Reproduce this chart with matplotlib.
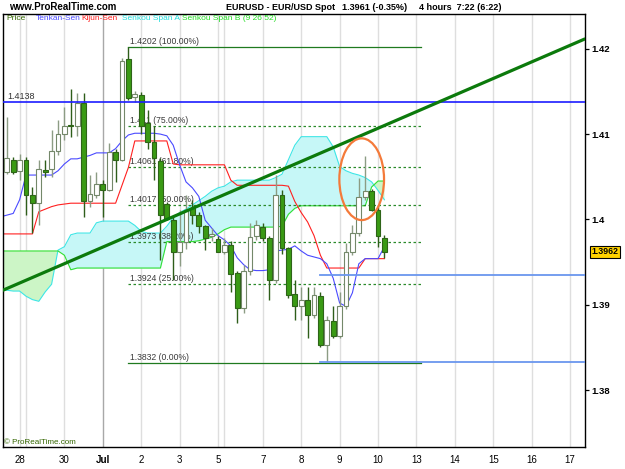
import matplotlib
matplotlib.use("Agg")
import matplotlib.pyplot as plt
import matplotlib.transforms as mtransforms
from matplotlib.patches import Rectangle, Ellipse

plt.rcParams['font.family'] = ['Liberation Sans', 'DejaVu Sans']

# ---------------- data ----------------
# bar index: 0 = the Sunday Jun 28 bar, 6 bars (4h) per weekday
bar_index = list(range(-2, 58))
opens = [1.4055, 1.4070, 1.4057, 1.4070, 1.4029, 1.4019, 1.4058, 1.4059, 1.4080, 1.4100,
         1.4111, 1.4110, 1.4137, 1.4021, 1.4029, 1.4042, 1.4035, 1.4079, 1.4070, 1.4188,
         1.4143, 1.4146, 1.4113, 1.4091, 1.4068, 1.4018, 1.3999, 1.3962, 1.3974, 1.4013,
         1.4005, 1.3992, 1.3980, 1.3977, 1.3962, 1.3970, 1.3937, 1.3896, 1.3939, 1.3980,
         1.3991, 1.3978, 1.3929, 1.4029, 1.3966, 1.3912, 1.3898, 1.3905, 1.3888, 1.3910,
         1.3853, 1.3881, 1.3863, 1.3898, 1.3962, 1.3984, 1.4026, 1.4033, 1.4011, 1.3978]
highs = [1.4120, 1.4073, 1.4077, 1.4073, 1.4038, 1.4070, 1.4070, 1.4105, 1.4117, 1.4132,
         1.4153, 1.4148, 1.4148, 1.4052, 1.4056, 1.4046, 1.4089, 1.4083, 1.4189, 1.4202,
         1.4150, 1.4149, 1.4128, 1.4109, 1.4072, 1.4020, 1.4003, 1.4011, 1.4029, 1.4023,
         1.4009, 1.3993, 1.3990, 1.3980, 1.3978, 1.3975, 1.3940, 1.3947, 1.3996, 1.3999,
         1.3996, 1.3980, 1.4052, 1.4035, 1.3968, 1.3929, 1.3921, 1.3921, 1.3921, 1.3915,
         1.3887, 1.3898, 1.3915, 1.3972, 1.3993, 1.4048, 1.4074, 1.4036, 1.4017, 1.3982]
lows = [1.4053, 1.4053, 1.4046, 1.4005, 1.3984, 1.3994, 1.4050, 1.4050, 1.4076, 1.4093,
        1.4097, 1.4098, 1.4003, 1.4015, 1.4025, 1.4003, 1.4033, 1.4044, 1.4068, 1.4140,
        1.4138, 1.4100, 1.4083, 1.4046, 1.3952, 1.3999, 1.3929, 1.3945, 1.3965, 1.3995,
        1.3984, 1.3964, 1.3975, 1.3962, 1.3960, 1.3915, 1.3879, 1.3890, 1.3935, 1.3976,
        1.3975, 1.3906, 1.3925, 1.3960, 1.3908, 1.3882, 1.3882, 1.3861, 1.3885, 1.3851,
        1.3833, 1.3861, 1.3861, 1.3895, 1.3958, 1.3980, 1.4023, 1.4010, 1.3968, 1.3955]
closes = [1.4072, 1.4055, 1.4070, 1.4029, 1.4019, 1.4059, 1.4056, 1.4080, 1.4100, 1.4110,
          1.4109, 1.4136, 1.4021, 1.4030, 1.4042, 1.4035, 1.4079, 1.4070, 1.4186, 1.4142,
          1.4147, 1.4110, 1.4091, 1.4072, 1.4005, 1.4000, 1.3962, 1.3974, 1.4011, 1.4005,
          1.3992, 1.3978, 1.3983, 1.3962, 1.3970, 1.3936, 1.3896, 1.3939, 1.3979, 1.3994,
          1.3978, 1.3929, 1.4029, 1.3966, 1.3911, 1.3898, 1.3905, 1.3888, 1.3911, 1.3853,
          1.3882, 1.3863, 1.3898, 1.3962, 1.3984, 1.4026, 1.4033, 1.4011, 1.3980, 1.3962]

ichi_index = list(range(-3, 58))
tenkan = [1.4003, 1.4005, 1.4007, 1.4023, 1.4052, 1.4052, 1.4052, 1.4052, 1.4052, 1.4057,
          1.4065, 1.4071, 1.4071, 1.4073, 1.4075, 1.4078, 1.4078, 1.4078, 1.4083, 1.4092,
          1.4099, 1.4101, 1.4101, 1.4101, 1.4101, 1.4100, 1.4098, 1.4087, 1.4064, 1.4044,
          1.4037, 1.4027, 1.3999, 1.3990, 1.3981, 1.3976, 1.3969, 1.3955, 1.3947, 1.3941,
          1.3940, 1.3940, 1.3941, 1.3963, 1.3964, 1.3965, 1.3969, 1.3963, 1.3958, 1.3956,
          1.3954, 1.3948, 1.3931, 1.3902, 1.3898, 1.3914, 1.3948, 1.3954, 1.3954, 1.3954,
          1.3968]
kijun = [1.3983, 1.3983, 1.3983, 1.3983, 1.3983, 1.3983, 1.4009, 1.4012, 1.4015, 1.4017,
         1.4018, 1.4019, 1.4019, 1.4019, 1.4019, 1.4019, 1.4019, 1.4019, 1.4019, 1.4040,
         1.4061, 1.4092, 1.4092, 1.4092, 1.4092, 1.4092, 1.4092, 1.4065, 1.4064, 1.4064,
         1.4064, 1.4064, 1.4064, 1.4064, 1.4064, 1.4064, 1.4046, 1.4040, 1.4040, 1.4040,
         1.4040, 1.4040, 1.4040, 1.4040, 1.4040, 1.4039, 1.4021, 1.4008, 1.3997, 1.3981,
         1.3958, 1.3943, 1.3943, 1.3943, 1.3943, 1.3943, 1.3943, 1.3954, 1.3954, 1.3954,
         1.3954]
senkou_a = [1.3917, 1.3917, 1.3916, 1.3916, 1.3910, 1.3906, 1.3904, 1.3915, 1.3924, 1.3964,
            1.3968, 1.3982, 1.3984, 1.3984, 1.3984, 1.3996, 1.3998, 1.3998, 1.3998, 1.3998,
            1.3998, 1.3993, 1.3986, 1.3984, 1.3984, 1.3984, 1.3992, 1.4002, 1.4008, 1.4012,
            1.4017, 1.4022, 1.4027, 1.4033, 1.4037, 1.4039, 1.4044, 1.4046, 1.4046, 1.4046,
            1.4046, 1.4046, 1.4046, 1.4049, 1.4053, 1.4070, 1.4087, 1.4097, 1.4097, 1.4097,
            1.4097, 1.4097, 1.4085, 1.4062, 1.4057, 1.4054, 1.4052, 1.4049, 1.4044, 1.4034,
            1.4023]
senkou_b = [1.3963, 1.3963, 1.3963, 1.3963, 1.3963, 1.3963, 1.3963, 1.3963, 1.3963, 1.3963,
            1.3958, 1.3941, 1.3943, 1.3943, 1.3943, 1.3943, 1.3943, 1.3943, 1.3943, 1.3943,
            1.3943, 1.3943, 1.3943, 1.3943, 1.3943, 1.3943, 1.3974, 1.3974, 1.3974, 1.3974,
            1.3974, 1.3975, 1.3977, 1.3979, 1.3983, 1.3988, 1.3991, 1.3991, 1.3991, 1.3991,
            1.3991, 1.3991, 1.3991, 1.3991, 1.3992, 1.4006, 1.4013, 1.4016, 1.4016, 1.4016,
            1.4016, 1.4016, 1.4016, 1.4016, 1.4016, 1.4016, 1.4016, 1.4016, 1.4038, 1.4045,
            1.4045]

day_ticks = [0, 7, 13, 19, 25, 31, 38, 44, 50, 56, 62, 68, 74, 80, 86]
day_labels = ['28', '30', 'Jul', '2', '3', '5', '7', '8', '9', '10', '13', '14', '15', '16', '17']
grid_days = [0, 1, 7, 13, 19, 25, 31, 32, 38, 44, 50, 56, 62, 68, 74, 80, 86]
month_start = 13

fib_levels = [1.4202, 1.411, 1.4061, 1.4017, 1.3973, 1.3924, 1.3832]
fib_texts = ['1.4202', '1.411', '1.4061', '1.4017', '1.3973', '1.3924', '1.3832']
fib_pcts = ['100.00%', '75.00%', '61.80%', '50.00%', '38.20%', '25.00%', '0.00%']
fib_span = [16.9, 62.7]

resistance = 1.4138
supports = [1.3935, 1.3833]
support_start = 46.9

trend_t = [-2.6, 88.3]
trend_p = [1.3917, 1.42115]

yticks = [1.38, 1.39, 1.40, 1.41, 1.42]
ytick_labels = ['1.38', '1.39', '1.4', '1.41', '1.42']
last_price = 1.3962

ellipse_center = (53.45, 1.40471)
ellipse_size = (6.98, 0.00958)

# ---------------- figure ----------------
W, H = 625, 469
fig = plt.figure(figsize=(W / 100, H / 100), dpi=100)
fig.patch.set_facecolor('white')
ax = fig.add_axes([3 / W, 1 - 447 / H, 582 / W, 433 / H])
ax.set_xlim(-2.594, 88.34)
ax.set_ylim(1.37332, 1.42408)

# vertical day grid
for d in grid_days:
    ax.axvline(d, color='#a8a8a8' if d == month_start else '#dedede', lw=1.0, zorder=0.5)

# cloud
ax.fill_between(ichi_index, senkou_a, senkou_b,
                where=[a >= b for a, b in zip(senkou_a, senkou_b)],
                interpolate=True, color='#c6f7f7', lw=0, zorder=1)
ax.fill_between(ichi_index, senkou_a, senkou_b,
                where=[a < b for a, b in zip(senkou_a, senkou_b)],
                interpolate=True, color='#ccf5c6', lw=0, zorder=1)
ax.plot(ichi_index, senkou_a, color='#3de6e6', lw=0.8, zorder=1.5)
ax.plot(ichi_index, senkou_b, color='#33e033', lw=0.8, zorder=1.5)

# fibonacci
for lvl, t, pc in zip(fib_levels, fib_texts, fib_pcts):
    solid = pc in ('100.00%', '0.00%')
    ax.plot(fib_span, [lvl, lvl], color='#1f7a1f' if solid else '#2a8a2a',
            lw=0.9, ls='-' if solid else (0, (2, 2)), zorder=2)
    ax.text(fib_span[0] + 0.35, lvl + 0.00012, f'{t} ({pc})', fontsize=6.2,
            color='#3a3a3a', va='bottom', ha='left', zorder=2)

# tenkan / kijun
ax.plot(ichi_index, kijun, color='#ff2020', lw=0.8, zorder=2.5)
ax.plot(ichi_index, tenkan, color='#4a4aff', lw=0.8, zorder=2.5)

# candles
bw = 0.74
for i, o, h, l, c in zip(bar_index, opens, highs, lows, closes):
    up = c >= o
    wick = '#8c9c84' if up else '#2e5e1a'
    ax.plot([i, i], [l, h], color=wick, lw=1.0, zorder=3, solid_capstyle='butt')
    lo, hi = min(o, c), max(o, c)
    ax.add_patch(Rectangle((i - bw / 2, lo), bw, max(hi - lo, 0.00003),
                           facecolor='white' if up else '#3a9a14',
                           edgecolor='#74886a' if up else '#2e6418',
                           lw=0.8, zorder=3.2))

# horizontal lines
ax.axhline(resistance, color='#1c1cff', lw=1.2, zorder=3.5)
ax.text(-1.9, resistance + 0.0001, f'{resistance:.4f}', fontsize=6.5, color='#333333',
        va='bottom', ha='left', zorder=3.5)
for s in supports:
    ax.plot([support_start, 88.34], [s, s], color='#6a96ee', lw=1.3, zorder=3.5)

# trendline
ax.plot(trend_t, trend_p, color='#0c7a0c', lw=2.3, zorder=4, solid_capstyle='round')

# ellipse
ax.add_patch(Ellipse(ellipse_center, ellipse_size[0], ellipse_size[1], fill=False,
                     edgecolor='#f47a3a', lw=1.6, zorder=5))

# axes styling
for sp in ax.spines.values():
    sp.set_color('black')
    sp.set_linewidth(1.0)
ax.yaxis.tick_right()
ax.set_yticks(yticks)
ax.set_yticklabels(ytick_labels, fontsize=6.8, fontweight='bold')
ax.tick_params(axis='y', direction='out', length=3, width=0.9, pad=1.5, colors='black')
ax.set_xticks(day_ticks)
ax.set_xticklabels(day_labels, fontsize=7)
ax.tick_params(axis='x', length=0, pad=6)
for lab in ax.get_xticklabels():
    if lab.get_text() == 'Jul':
        lab.set_fontweight('bold')

# last price box
trans = mtransforms.blended_transform_factory(ax.transAxes, ax.transData)
ax.text(1.011, last_price, f'{last_price:.4f}', transform=trans, fontsize=6.3,
        fontweight='bold', va='center', ha='left', clip_on=False,
        bbox=dict(boxstyle='square,pad=0.15', facecolor='#ffd200', edgecolor='black', lw=0.8))

# legend / header text
ly = 1 - 19 / H
fig.text(6 / W, ly, 'Price', fontsize=6, color='#336600', va='center')
fig.text(36 / W, ly, 'Tenkan-Sen', fontsize=6, color='#4a4aff', va='center')
fig.text(81.5 / W, ly, 'Kijun-Sen', fontsize=6, color='#ff2020', va='center')
fig.text(121.5 / W, ly, 'Senkou Span A', fontsize=6, color='#22dddd', va='center')
fig.text(181.5 / W, ly, 'Senkou Span B (9 26 52)', fontsize=6, color='#22dd22', va='center')

hy = 1 - 7 / H
fig.text(9 / W, hy, 'www.ProRealTime.com', fontsize=7.0, fontweight='bold', va='center')
fig.text(226 / W, hy, 'EURUSD - EUR/USD Spot', fontsize=6.5, fontweight='bold', va='center')
fig.text(342.5 / W, hy, '1.3961 (-0.35%)', fontsize=6.5, fontweight='bold', va='center')
fig.text(419 / W, hy, '4 hours  7:22 (6:22)', fontsize=6.5, fontweight='bold', va='center')
fig.text(4 / W, 1 - 442 / H, '\u00a9 ProRealTime.com', fontsize=5.8, color='#336600', va='center')

fig.savefig('out.png', dpi=100, facecolor='white')
